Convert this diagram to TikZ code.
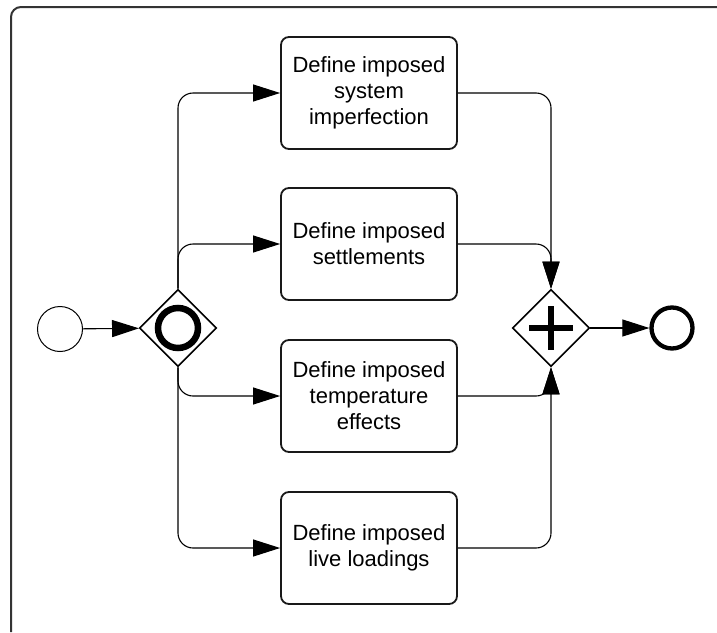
\documentclass[tikz,border=0pt]{standalone}
\usepackage{fontspec}
\setmainfont{Liberation Sans}
\usetikzlibrary{arrows.meta,shapes.geometric}

\tikzset{
  taskbox/.style={draw=black!90, line width=1.8pt, rounded corners=8pt,
    minimum width=176pt, minimum height=112pt, inner sep=0pt,
    align=center, font=\fontsize{22}{26}\selectfont},
  gateway/.style={draw=black, line width=1.6pt, shape=diamond, aspect=1,
    minimum width=77pt, minimum height=77pt, inner sep=0pt},
  flow/.style={draw=black, line width=1.1pt, rounded corners=15pt,
    -{Triangle[length=27pt,width=17pt]}},
}

\begin{document}
\begin{tikzpicture}[x=1pt,y=-1pt]
  \useasboundingbox (0,0) rectangle (717,632);

  % open frame around the process
  \draw[line width=2pt, black!80, rounded corners=10pt]
    (11,632) -- (11,7) -- (717,7);

  % events and gateways
  \node[circle, draw, line width=1pt, minimum size=45pt, inner sep=0pt] (start) at (60,329) {};
  \node[gateway] (split) at (178,328) {};
  \node[circle, draw, line width=6.5pt, minimum size=40pt, inner sep=0pt] (splitmark) at (178,328) {};
  \node[gateway] (join) at (551,328) {};
  \node[circle, draw, line width=4.3pt, minimum size=41pt, inner sep=0pt] (end) at (672,328) {};
  \draw[line width=6pt] (529,328) -- (573,328) (551,306) -- (551,350);

  % tasks
  \node[taskbox] (t1) at (369,93)  {Define imposed\\system\\imperfection};
  \node[taskbox] (t2) at (369,244) {Define imposed\\settlements};
  \node[taskbox] (t3) at (369,396) {Define imposed\\temperature\\effects};
  \node[taskbox] (t4) at (369,548) {Define imposed\\live loadings};

  % sequence flows
  \draw[flow] (start) -- (split);
  \draw[flow] (split.north) |- (t1.west);
  \draw[flow] (split.north) |- (t2.west);
  \draw[flow] (split.south) |- (t3.west);
  \draw[flow] (split.south) |- (t4.west);
  \draw[flow] (t1.east) -| (join.north);
  \draw[flow] (t2.east) -| (join.north);
  \draw[flow] (t3.east) -| (join.south);
  \draw[flow] (t4.east) -| (join.south);
  \draw[flow] (join) -- (end);
\end{tikzpicture}
\end{document}
